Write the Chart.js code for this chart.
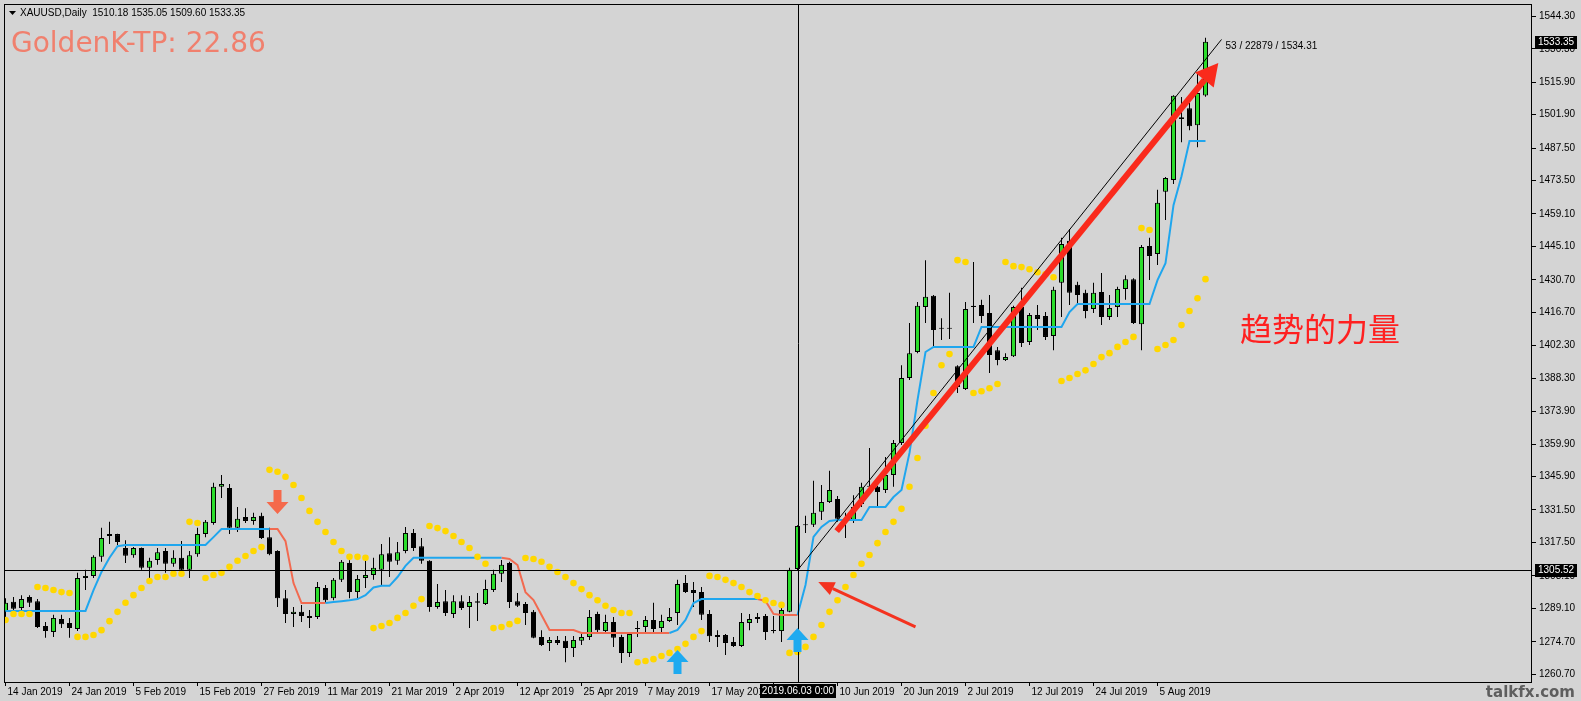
<!DOCTYPE html>
<html lang="zh">
<head>
<meta charset="UTF-8">
<title>XAUUSD Daily</title>
<script src="https://cdn.jsdelivr.net/npm/chart.js"></script>
<style>
  html, body { margin: 0; padding: 0; background: #d4d4d4; }
  canvas { display: block; }
</style>
</head>
<body>
<canvas id="chart" width="1581" height="701"></canvas>
<script>
// --- data, one bar per trading day from 14 Jan 2019 ---
const symbol = 'XAUUSD,Daily';
const tpLabel = 'GoldenK-TP: 22.86';
const LABEL_STEP = 8; // time label every 8 bars
const xTickLabels = ['14 Jan 2019','24 Jan 2019','5 Feb 2019','15 Feb 2019','27 Feb 2019','11 Mar 2019',
  '21 Mar 2019','2 Apr 2019','12 Apr 2019','25 Apr 2019','7 May 2019','17 May 2019','29 May 2019',
  '10 Jun 2019','20 Jun 2019','2 Jul 2019','12 Jul 2019','24 Jul 2019','5 Aug 2019'];
const yTicks = [1544.30,1530.30,1515.90,1501.90,1487.50,1473.50,1459.10,1445.10,1430.70,1416.70,1402.30,
  1388.30,1373.90,1359.90,1345.90,1331.50,1317.50,1303.10,1289.10,1274.70,1260.70];

const open = [
1287.6,1291.9,1289.3,1294.0,1292.2,1281.5,1278.9,1284.5,1282.8,1280.2,
1302.2,1303.1,1311.4,1320.3,1321.1,1315.1,1312.0,1315.1,1306.6,1310.0,
1313.8,1308.3,1310.9,1305.7,1312.4,1321.1,1325.9,1341.5,1341.0,1323.8,
1328.5,1326.8,1329.0,1319.8,1313.8,1293.5,1286.7,1287.6,1285.8,1285.4,
1297.9,1293.5,1301.4,1308.7,1296.1,1302.2,1303.5,1305.7,1312.9,1309.6,
1313.8,1321.6,1315.9,1309.6,1289.7,1292.2,1286.7,1292.2,1289.7,1292.2,
1291.0,1297.0,1304.0,1308.7,1292.2,1291.0,1287.6,1276.8,1274.2,1275.5,
1275.1,1272.0,1275.1,1276.8,1286.7,1279.3,1283.2,1276.8,1269.9,1280.2,
1281.1,1284.1,1280.6,1283.7,1287.1,1300.0,1297.0,1296.1,1286.7,1277.6,
1277.6,1274.6,1272.9,1282.8,1285.4,1285.8,1279.7,1279.3,1287.6,1306.1,
1325.1,1325.1,1330.7,1334.9,1336.2,1327.7,1327.2,1334.1,1341.9,1341.5,
1340.1,1346.6,1360.4,1388.4,1399.6,1419.0,1423.8,1410.0,1410.0,1393.5,
1383.6,1419.5,1419.9,1416.4,1400.4,1396.1,1397.8,1419.0,1403.9,1415.5,
1415.1,1406.5,1429.5,1447.5,1428.6,1425.1,1418.1,1425.5,1414.7,1419.0,
1426.8,1431.0,1411.6,1445.3,1441.8,1468.7,1473.7,1500.0,1504.7,1497.3,
1510.18];
const high = [
1293.5,1294.0,1294.8,1294.8,1293.1,1283.2,1286.3,1286.3,1285.0,1304.4,
1305.7,1312.0,1323.8,1326.4,1321.3,1318.5,1315.5,1315.3,1310.9,1315.1,
1315.1,1314.2,1318.1,1313.8,1323.8,1327.2,1343.2,1346.6,1342.7,1332.8,
1332.3,1330.3,1330.3,1323.8,1314.2,1297.0,1289.7,1290.6,1288.4,1300.5,
1299.2,1302.2,1310.0,1310.0,1303.5,1310.9,1310.9,1316.8,1319.8,1317.7,
1324.2,1323.3,1319.4,1309.8,1299.6,1297.0,1294.8,1294.8,1294.4,1295.7,
1301.4,1305.7,1310.0,1309.2,1295.7,1291.8,1288.4,1279.7,1276.8,1277.2,
1277.2,1277.2,1278.9,1288.4,1287.6,1286.3,1285.4,1277.7,1278.9,1283.7,
1285.8,1291.5,1286.3,1289.3,1301.4,1303.5,1300.5,1298.3,1288.4,1279.7,
1278.0,1276.8,1287.1,1286.7,1287.1,1286.7,1285.8,1289.3,1306.6,1324.9,
1329.0,1344.1,1342.3,1348.4,1337.5,1330.3,1337.9,1343.2,1358.2,1341.9,
1354.3,1361.7,1393.9,1412.1,1421.2,1439.2,1424.2,1414.2,1425.1,1393.9,
1421.2,1438.4,1422.1,1424.2,1401.8,1399.1,1419.5,1427.3,1416.4,1419.9,
1416.8,1427.7,1448.8,1452.6,1429.9,1426.4,1429.5,1433.6,1424.2,1427.7,
1432.7,1431.4,1445.7,1448.8,1469.5,1475.0,1510.3,1509.5,1506.9,1519.8,
1535.05];
const low = [
1285.4,1286.3,1288.0,1289.7,1280.6,1276.4,1276.8,1280.6,1276.4,1279.3,
1297.0,1302.2,1309.2,1316.8,1316.4,1308.7,1310.9,1305.7,1302.2,1307.9,
1304.4,1307.0,1304.8,1302.2,1311.4,1319.8,1325.1,1336.7,1321.1,1322.0,
1325.9,1325.1,1319.0,1312.0,1289.7,1282.8,1281.1,1283.2,1280.6,1284.5,
1291.5,1292.6,1300.5,1293.5,1293.5,1297.9,1301.4,1298.8,1302.6,1307.9,
1312.9,1313.8,1308.3,1287.6,1288.9,1285.8,1285.0,1288.4,1280.6,1283.7,
1290.6,1296.1,1300.5,1289.3,1289.7,1281.9,1276.2,1272.9,1270.7,1273.3,
1265.9,1268.1,1273.3,1275.5,1278.4,1278.9,1272.5,1265.5,1268.1,1276.8,
1278.0,1278.4,1278.9,1283.2,1281.9,1295.7,1289.7,1284.1,1274.6,1272.5,
1269.0,1272.5,1272.5,1279.7,1282.8,1275.5,1278.4,1274.6,1287.4,1305.5,
1321.6,1324.2,1327.2,1334.5,1326.4,1319.4,1325.9,1332.8,1340.1,1332.8,
1338.8,1341.5,1359.5,1387.5,1399.1,1412.1,1401.8,1404.8,1405.2,1381.9,
1383.2,1412.1,1412.1,1390.6,1393.9,1395.7,1397.4,1401.8,1402.6,1409.1,
1404.8,1400.4,1414.7,1419.9,1419.9,1414.2,1416.4,1411.2,1413.4,1414.7,
1422.1,1411.7,1400.4,1430.6,1437.1,1456.5,1472.0,1490.0,1495.2,1487.9,
1509.60];
const close = [
1291.5,1288.9,1293.1,1291.5,1281.1,1279.3,1285.0,1282.3,1280.6,1302.2,
1303.1,1311.4,1319.4,1321.1,1317.7,1311.8,1315.1,1306.6,1309.6,1313.3,
1308.3,1310.9,1305.7,1312.0,1321.1,1326.4,1341.5,1342.7,1323.8,1327.7,
1326.8,1328.5,1319.4,1312.4,1293.5,1286.7,1287.6,1285.8,1285.0,1298.3,
1292.6,1301.4,1309.2,1296.1,1301.8,1303.5,1306.6,1312.4,1309.2,1313.3,
1321.6,1315.1,1309.6,1289.7,1291.8,1287.1,1292.2,1289.3,1291.8,1291.5,
1297.4,1304.0,1307.9,1291.8,1290.2,1287.1,1276.4,1273.3,1275.5,1274.2,
1272.0,1275.5,1276.8,1285.4,1279.7,1283.2,1276.4,1269.9,1278.0,1280.4,
1284.1,1280.2,1283.7,1285.4,1299.6,1296.1,1295.7,1286.3,1277.1,1276.8,
1274.2,1272.9,1283.2,1284.5,1284.5,1278.9,1279.3,1288.4,1305.7,1324.6,
1324.9,1330.3,1334.9,1340.1,1327.7,1326.8,1332.8,1341.5,1341.5,1339.3,
1346.6,1360.4,1388.4,1399.1,1419.5,1423.4,1409.1,1409.6,1409.6,1384.5,
1418.1,1419.0,1415.1,1398.3,1396.1,1397.4,1419.0,1403.5,1415.5,1413.8,
1406.1,1426.4,1446.2,1425.1,1424.2,1417.3,1425.1,1414.7,1418.6,1426.8,
1431.0,1412.1,1444.9,1441.0,1463.9,1474.6,1510.0,1500.8,1496.9,1511.2,
1533.35];

// trailing stop line (blue = up, red = down)
const trail = [
1288.0,1288.0,1288.0,1288.0,1288.0,1288.0,1288.0,1288.0,1288.0,1288.0,
1288.0,1297.0,1304.8,1310.9,1315.9,1316.4,1316.4,1316.4,1316.4,1316.4,
1316.4,1316.4,1316.4,1316.4,1316.4,1316.4,1319.8,1323.3,1323.3,1323.3,
1323.3,1323.3,1323.3,1323.3,1323.3,1318.1,1300.0,1291.4,1291.4,1291.4,
1291.4,1291.8,1292.2,1292.6,1293.1,1294.8,1298.1,1298.8,1298.8,1302.6,
1307.4,1310.9,1310.9,1310.9,1310.9,1310.9,1310.9,1310.9,1310.9,1310.9,
1310.9,1310.9,1310.9,1310.4,1307.8,1296.1,1292.7,1286.2,1279.8,1279.8,
1279.8,1279.8,1278.5,1278.5,1278.5,1278.5,1278.5,1278.5,1278.5,1278.5,
1278.5,1278.5,1278.5,1278.5,1279.8,1284.1,1291.4,1293.1,1293.1,1293.1,
1293.1,1293.1,1293.1,1293.1,1293.1,1292.3,1286.7,1286.2,1286.2,1286.2,
1299.2,1319.9,1324.2,1326.8,1327.2,1327.2,1327.2,1327.2,1332.8,1332.8,
1332.8,1337.1,1340.1,1356.1,1378.9,1399.6,1401.8,1401.8,1401.8,1401.8,
1401.8,1401.8,1410.4,1410.4,1410.4,1410.4,1410.4,1410.4,1410.4,1410.4,
1410.4,1410.4,1410.4,1416.8,1420.3,1420.3,1420.3,1420.3,1420.3,1420.3,
1420.3,1420.3,1420.3,1420.3,1430.6,1437.9,1462.9,1475.4,1490.5,1490.5,
1490.5];
const trailDownRanges = [[33, 40], [62, 83], [94, 99]];

// yellow dotted stop (SAR-like)
const sar = [
1284.1,1286.7,1286.7,1286.7,1298.3,1297.9,1297.0,1296.1,1295.7,1276.8,
1276.8,1277.6,1279.7,1283.6,1287.6,1291.5,1294.8,1297.9,1300.9,1302.6,
1302.6,1304.0,1304.0,1326.4,1325.9,1302.2,1303.5,1304.4,1307.0,1309.6,
1311.7,1313.8,1315.5,1348.8,1348.0,1345.8,1342.3,1336.7,1331.1,1326.4,
1322.0,1317.7,1313.8,1311.3,1311.3,1310.9,1280.6,1281.5,1282.8,1285.0,
1287.1,1290.2,1293.1,1324.6,1323.7,1322.4,1320.3,1317.7,1315.1,1311.3,
1308.3,1280.6,1281.1,1282.3,1283.7,1310.8,1310.4,1309.2,1307.0,1304.8,
1302.6,1300.0,1297.4,1294.8,1292.6,1290.2,1288.4,1287.1,1287.1,1265.9,
1266.4,1267.2,1268.6,1269.9,1271.6,1273.8,1276.8,1279.3,1303.1,1302.6,
1301.4,1300.0,1298.3,1296.1,1294.4,1292.6,1291.4,1290.6,1269.9,1270.3,
1272.5,1276.8,1281.9,1287.6,1292.6,1298.3,1303.5,1308.3,1312.1,1317.2,
1322.0,1326.4,1332.0,1341.5,1353.9,1367.8,1381.9,1393.9,1398.7,1439.2,
1438.4,1381.9,1382.7,1384.0,1385.8,1438.4,1436.6,1436.2,1435.3,1434.0,
1433.1,1431.8,1387.1,1388.4,1390.1,1391.7,1394.4,1397.4,1399.1,1401.8,
1403.9,1406.1,1453.0,1452.2,1400.9,1402.6,1404.8,1411.2,1417.3,1422.8,
1431.0];

const sellArrows = [{bar: 34, price: 1329.8}];
const buyArrows = [{bar: 84, price: 1271.2}, {bar: 99, price: 1280.6}];
const crossBar = 99, crossPrice = 1305.52, crossTime = '2019.06.03 0:00';
const trendLine = {bar0: 99, p0: 1305.52, bar1: 152, p1: 1534.31};
const bigArrow = {bar0: 103.9, p0: 1322.4, bar1: 151.6, p1: 1524.2};
const thinArrow = {bar0: 113.75, p0: 1281.1, bar1: 101.6, p1: 1300.5};
const note = {bar: 154.3, price: 1409.5, text: '趋势的力量'};

// --- styling ---
const BG = '#d4d4d4';
const BULL = '#2bdc2b';
const UP_COL = '#1fa6ee';
const DN_COL = '#f26a50';
const AXIS_FONT = "'Liberation Sans', Arial, sans-serif";
const AXIS_SIZE = 10;

const n = close.length;
const last = n - 1;
const isDown = i => trailDownRanges.some(([a, b]) => i >= a && i <= b);
const isInnerDown = i => trailDownRanges.some(([a, b]) => i > a && i < b);

function blockArrow(ctx, cx, tipY, dir, color) {
  // dir 1 = pointing down, -1 = pointing up
  const hw = 11, sw = 4, hh = 12, len = 24;
  ctx.beginPath();
  ctx.moveTo(cx, tipY);
  ctx.lineTo(cx + hw, tipY - dir * hh);
  ctx.lineTo(cx + sw, tipY - dir * hh);
  ctx.lineTo(cx + sw, tipY - dir * len);
  ctx.lineTo(cx - sw, tipY - dir * len);
  ctx.lineTo(cx - sw, tipY - dir * hh);
  ctx.lineTo(cx - hw, tipY - dir * hh);
  ctx.closePath();
  ctx.fillStyle = color;
  ctx.fill();
}

function lineArrow(ctx, x0, y0, x1, y1, width, headLen, headW, color) {
  const ang = Math.atan2(y1 - y0, x1 - x0);
  const bx = x1 - headLen * Math.cos(ang), by = y1 - headLen * Math.sin(ang);
  ctx.strokeStyle = color;
  ctx.lineWidth = width;
  ctx.beginPath(); ctx.moveTo(x0, y0); ctx.lineTo(bx, by); ctx.stroke();
  ctx.beginPath();
  ctx.moveTo(x1, y1);
  ctx.lineTo(bx + headW * Math.sin(ang), by - headW * Math.cos(ang));
  ctx.lineTo(bx - headW * Math.sin(ang), by + headW * Math.cos(ang));
  ctx.closePath();
  ctx.fillStyle = color;
  ctx.fill();
}

function priceBox(ctx, y, value, left) {
  const py = Math.round(y);
  ctx.fillStyle = '#000';
  ctx.fillRect(left, py - 6, 42, 13);
  ctx.fillStyle = '#fff';
  ctx.font = AXIS_SIZE + 'px ' + AXIS_FONT;
  ctx.textAlign = 'left';
  ctx.textBaseline = 'middle';
  ctx.fillText(value.toFixed(2), left + 3, py + 0.5);
}

const overlay = {
  id: 'overlay',
  beforeDraw(chart) {
    const {ctx, width, height} = chart;
    ctx.save();
    ctx.fillStyle = BG;
    ctx.fillRect(0, 0, width, height);
    ctx.restore();
  },
  afterDatasetsDraw(chart) {
    const {ctx, chartArea: a, scales: {x, y}} = chart;
    ctx.save();
    ctx.beginPath();
    ctx.rect(a.left, a.top, a.right - a.left, a.bottom - a.top);
    ctx.clip();

    // crosshair
    ctx.strokeStyle = '#000';
    ctx.lineWidth = 1;
    const cx = Math.round(x.getPixelForValue(crossBar)) + 0.5;
    const cy = Math.round(y.getPixelForValue(crossPrice)) + 0.5;
    ctx.beginPath();
    ctx.moveTo(cx, a.top); ctx.lineTo(cx, a.bottom);
    ctx.moveTo(a.left, cy); ctx.lineTo(a.right, cy);
    ctx.stroke();

    // signal arrows
    sellArrows.forEach(s => blockArrow(ctx, x.getPixelForValue(s.bar), y.getPixelForValue(s.price), 1, '#f5694b'));
    buyArrows.forEach(s => blockArrow(ctx, x.getPixelForValue(s.bar), y.getPixelForValue(s.price), -1, '#1eaaf0'));

    // trend line
    ctx.strokeStyle = '#000';
    ctx.lineWidth = 1;
    const tx0 = x.getPixelForValue(trendLine.bar0), ty0 = y.getPixelForValue(trendLine.p0);
    const tx1 = x.getPixelForValue(trendLine.bar1), ty1 = y.getPixelForValue(trendLine.p1);
    ctx.beginPath(); ctx.moveTo(tx0, ty0); ctx.lineTo(tx1, ty1); ctx.stroke();
    const tlBars = trendLine.bar1 - trendLine.bar0;
    const tlPts = Math.round((trendLine.p1 - trendLine.p0) * 100);
    ctx.fillStyle = '#000';
    ctx.font = AXIS_SIZE + 'px ' + AXIS_FONT;
    ctx.textBaseline = 'middle';
    ctx.textAlign = 'left';
    ctx.fillText(tlBars + ' / ' + tlPts + ' / ' + trendLine.p1.toFixed(2), tx1 + 4, ty1 + 7);

    // drawn arrows
    lineArrow(ctx, x.getPixelForValue(bigArrow.bar0), y.getPixelForValue(bigArrow.p0),
      x.getPixelForValue(bigArrow.bar1), y.getPixelForValue(bigArrow.p1), 6, 22, 12, '#fa2a1c');
    lineArrow(ctx, x.getPixelForValue(thinArrow.bar0), y.getPixelForValue(thinArrow.p0),
      x.getPixelForValue(thinArrow.bar1), y.getPixelForValue(thinArrow.p1), 3, 16, 7, '#f4321f');

    // note
    ctx.fillStyle = '#ff2020';
    ctx.font = "32px 'Noto Sans CJK SC', sans-serif";
    ctx.textBaseline = 'middle';
    ctx.fillText(note.text, x.getPixelForValue(note.bar), y.getPixelForValue(note.price));
    ctx.restore();
  },
  afterDraw(chart) {
    const {ctx, chartArea: a, scales: {x, y}} = chart;
    ctx.save();
    // frame
    ctx.strokeStyle = '#000';
    ctx.lineWidth = 1;
    ctx.strokeRect(a.left + 0.5, a.top + 0.5, a.right - a.left - 1, a.bottom - a.top - 1);

    // axis highlight boxes
    priceBox(ctx, y.getPixelForValue(close[last]), close[last], a.right + 3);
    priceBox(ctx, y.getPixelForValue(crossPrice), crossPrice, a.right + 3);
    ctx.font = AXIS_SIZE + 'px ' + AXIS_FONT;
    const tw = ctx.measureText(crossTime).width + 4;
    const cx = Math.round(x.getPixelForValue(crossBar));
    ctx.fillStyle = '#000';
    ctx.fillRect(Math.round(cx - tw / 2), a.bottom + 1, Math.round(tw), 14);
    ctx.fillStyle = '#fff';
    ctx.textAlign = 'center';
    ctx.textBaseline = 'middle';
    ctx.fillText(crossTime, cx, a.bottom + 8.5);

    // header
    ctx.fillStyle = '#000';
    ctx.beginPath();
    ctx.moveTo(9, 11); ctx.lineTo(16, 11); ctx.lineTo(12.5, 15); ctx.closePath();
    ctx.fill();
    ctx.textAlign = 'left';
    ctx.fillText(symbol + '  ' + [open[last], high[last], low[last], close[last]].map(v => v.toFixed(2)).join(' '), 20, 13);

    ctx.fillStyle = '#f0806e';
    ctx.font = "28px 'DejaVu Sans', sans-serif";
    ctx.textBaseline = 'alphabetic';
    ctx.fillText(tpLabel, 11, 52);

    // watermark
    ctx.fillStyle = '#5e5e5e';
    ctx.font = "bold 15px 'DejaVu Sans', sans-serif";
    ctx.textAlign = 'right';
    ctx.fillText('talkfx.com', 1575, 697);
    ctx.restore();
  }
};

const bars = close.map((c, i) => i);
const ctx = document.getElementById('chart').getContext('2d');
new Chart(ctx, {
  type: 'bar',
  data: {
    datasets: [
      {
        type: 'line', label: 'sar', order: 0,
        data: bars.map(i => ({x: i, y: sar[i]})),
        showLine: false, pointRadius: 3.3, pointBackgroundColor: '#ffd700', pointBorderWidth: 0
      },
      {
        type: 'line', label: 'trail up', order: 1,
        data: bars.map(i => ({x: i, y: isInnerDown(i) ? null : trail[i]})),
        borderColor: UP_COL, borderWidth: 2, pointRadius: 0, spanGaps: false
      },
      {
        type: 'line', label: 'trail down', order: 1,
        data: bars.map(i => ({x: i, y: isDown(i) ? trail[i] : null})),
        borderColor: DN_COL, borderWidth: 2, pointRadius: 0, spanGaps: false
      },
      {
        label: 'body', order: 2,
        data: bars.map(i => ({x: i, y: [open[i], close[i]]})),
        backgroundColor: bars.map(i => close[i] >= open[i] ? BULL : '#000'),
        borderColor: '#000', borderWidth: 1, borderSkipped: false,
        barThickness: 5, grouped: false, minBarLength: 1, inflateAmount: 0
      },
      {
        label: 'wick', order: 3,
        data: bars.map(i => ({x: i, y: [low[i], high[i]]})),
        backgroundColor: '#000', borderWidth: 0,
        barThickness: 1, grouped: false, inflateAmount: 0
      }
    ]
  },
  options: {
    responsive: false,
    devicePixelRatio: 1,
    animation: false,
    events: [],
    layout: {padding: {left: 4, top: 4, right: 0, bottom: 0}},
    plugins: {legend: {display: false}, tooltip: {enabled: false}},
    scales: {
      x: {
        type: 'linear', offset: false,
        min: -0.1875, max: 190.8125,
        afterBuildTicks: s => { s.ticks = xTickLabels.map((_, k) => ({value: k * LABEL_STEP})); },
        afterFit: s => { s.height = 18; s.paddingLeft = 0; s.paddingRight = 0; },
        grid: {drawOnChartArea: false, drawTicks: true, tickLength: 3, color: '#000', offset: false},
        border: {display: false},
        ticks: {
          align: 'start', labelOffset: 2, padding: 0, autoSkip: false, maxRotation: 0, minRotation: 0,
          color: '#000', font: {family: AXIS_FONT, size: AXIS_SIZE},
          callback: (v, idx) => xTickLabels[idx]
        }
      },
      y: {
        position: 'right', beginAtZero: false,
        min: 1256.93, max: 1549.60,
        afterBuildTicks: s => { s.ticks = yTicks.map(v => ({value: v})); },
        afterFit: s => { s.width = 49; s.paddingTop = 0; s.paddingBottom = 0; },
        grid: {drawOnChartArea: false, drawTicks: true, tickLength: 4, color: '#000'},
        border: {display: false},
        ticks: {
          crossAlign: 'near', padding: 3, autoSkip: false,
          color: '#000', font: {family: AXIS_FONT, size: AXIS_SIZE},
          callback: v => Number(v).toFixed(2)
        }
      }
    }
  },
  plugins: [overlay]
});
</script>
</body>
</html>
